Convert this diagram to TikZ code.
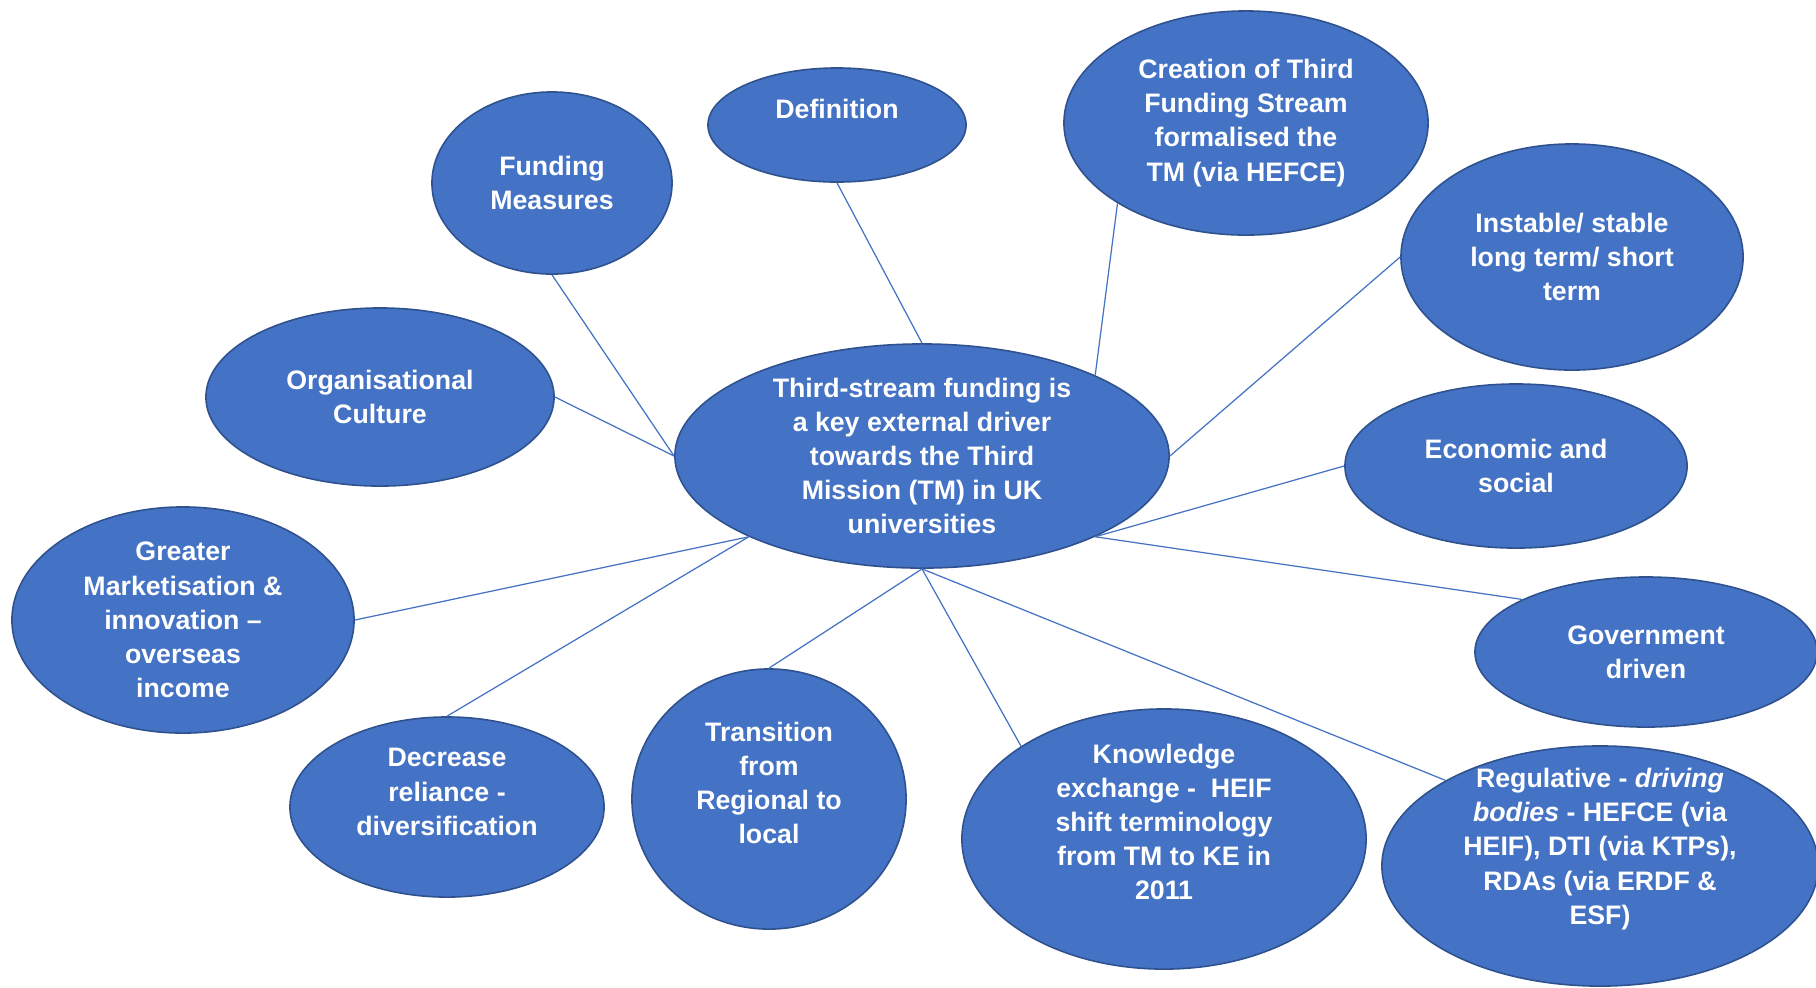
\documentclass[tikz,border=0pt]{standalone}
\usepackage{fontspec}
\setmainfont{Liberation Sans}
\usetikzlibrary{shapes.geometric}
\definecolor{bubblefill}{HTML}{4472C4}
\definecolor{bubbleedge}{HTML}{2F528F}
\tikzset{
  bubble/.style={ellipse, draw=bubbleedge, fill=bubblefill, line width=0.45pt, inner sep=0pt},
  txt/.style={text=white, font=\fontsize{7.6}{9.7}\selectfont\bfseries, align=center, inner sep=0pt},
  link/.style={draw=bubblefill, line width=0.35pt}
}
\begin{document}
\begin{tikzpicture}[x=0.01cm, y=-0.01cm]
\useasboundingbox (0,0) rectangle (1816,987);
\fill[white] (0,0) rectangle (1816,987);

% ellipses
\node[bubble, minimum width=4.94cm, minimum height=2.24cm] (hub) at (922,456) {};
\node[bubble, minimum width=2.58cm, minimum height=1.14cm] (def) at (837,125) {};
\node[bubble, minimum width=2.40cm, minimum height=1.82cm] (fund) at (552,183) {};
\node[bubble, minimum width=3.64cm, minimum height=2.24cm] (crea) at (1246,123) {};
\node[bubble, minimum width=3.42cm, minimum height=2.26cm] (inst) at (1572,257) {};
\node[bubble, minimum width=3.48cm, minimum height=1.78cm] (org) at (380,397) {};
\node[bubble, minimum width=3.42cm, minimum height=1.64cm] (econ) at (1516,466) {};
\node[bubble, minimum width=3.42cm, minimum height=2.26cm] (mark) at (183,620) {};
\node[bubble, minimum width=3.42cm, minimum height=1.50cm] (gov) at (1646,652) {};
\node[bubble, minimum width=3.14cm, minimum height=1.80cm] (decr) at (447,807) {};
\node[bubble, minimum width=2.74cm, minimum height=2.60cm] (trans) at (769,799) {};
\node[bubble, minimum width=4.04cm, minimum height=2.60cm] (know) at (1164,839) {};
\node[bubble, minimum width=4.36cm, minimum height=2.40cm] (reg) at (1600,866) {};

% connectors
\draw[link] (fund.south) -- (hub.west);
\draw[link] (def.south) -- (hub.north);
\draw[link] (crea.212) -- (hub.25);
\draw[link] (inst.west) -- (hub.east);
\draw[link] (org.east) -- (hub.west);
\draw[link] (econ.west) -- (hub.335);
\draw[link] (gov.157) -- (hub.335);
\draw[link] (mark.east) -- (hub.205);
\draw[link] (decr.north) -- (hub.205);
\draw[link] (trans.north) -- (hub.south);
\draw[link] (know.147) -- (hub.south);
\draw[link] (reg.151) -- (hub.south);

% texts
\node[txt] (hubt) at (hub) {Third-stream funding is\\a key external driver\\towards the Third\\Mission (TM) in UK\\universities};
\node[txt] (deft) at ([yshift=0.16cm]def.center) {Definition};
\node[txt] (fundt) at (fund) {Funding\\Measures};
\node[txt] (creat) at (crea) {Creation of Third\\Funding Stream\\formalised the\\TM (via HEFCE)};
\node[txt] (instt) at (inst) {Instable/ stable\\long term/ short\\term};
\node[txt] (orgt) at (org) {Organisational\\Culture};
\node[txt] (econt) at (econ) {Economic and\\social};
\node[txt] (markt) at (mark) {Greater\\Marketisation \&\\innovation –\\overseas\\income};
\node[txt] (govt) at (gov) {Government\\driven};
\node[txt] (decrt) at ([yshift=0.15cm]decr.center) {Decrease\\reliance -\\diversification};
\node[txt] (transt) at ([yshift=0.16cm]trans.center) {Transition\\from\\Regional to\\local};
\node[txt] (knowt) at ([yshift=0.17cm]know.center) {Knowledge\\exchange -~ HEIF\\shift terminology\\from TM to KE in\\2011};
\node[txt] (regt) at ([yshift=0.17cm]reg.center) {Regulative - \textit{driving}\\\textit{bodies} - HEFCE (via\\HEIF), DTI (via KTPs),\\RDAs (via ERDF \&\\ESF)};
\end{tikzpicture}
\end{document}
